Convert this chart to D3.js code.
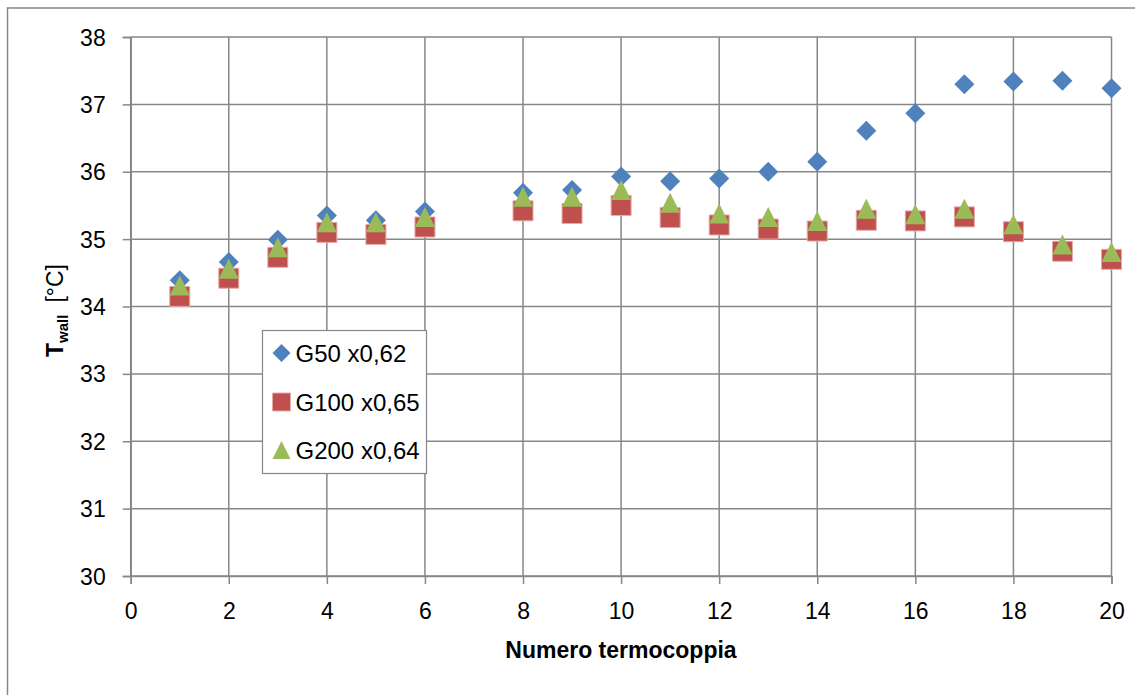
<!DOCTYPE html>
<html>
<head>
<meta charset="utf-8">
<script src="https://cdn.jsdelivr.net/npm/d3@7"></script>
<style>
  body { margin: 0; background: #fff; }
  svg { display: block; font-family: "Liberation Sans", Arial, sans-serif; }
  .axis text { font-size: 23px; fill: #000; }
  .axis line, .axis path { stroke: #878787; stroke-width: 1.5; }
  .grid line { stroke: #878787; stroke-width: 1.5; }
</style>
</head>
<body>
<svg id="chart"></svg>
<script>
// thermocouple index (no reading at 7)
const termocoppie = [1, 2, 3, 4, 5, 6, 8, 9, 10, 11, 12, 13, 14, 15, 16, 17, 18, 19, 20];
const g50 = [34.39, 34.66, 34.99, 35.35, 35.28, 35.41, 35.69, 35.73, 35.93, 35.86, 35.90, 36.00, 36.15, 36.61, 36.87, 37.30, 37.34, 37.35, 37.24];
const g100 = [34.15, 34.42, 34.73, 35.10, 35.07, 35.18, 35.42, 35.38, 35.50, 35.32, 35.21, 35.15, 35.12, 35.28, 35.27, 35.33, 35.11, 34.82, 34.70];
const g200 = [34.31, 34.56, 34.88, 35.25, 35.25, 35.33, 35.63, 35.63, 35.73, 35.54, 35.38, 35.33, 35.27, 35.45, 35.37, 35.45, 35.22, 34.92, 34.81];
const xTicks = [0, 2, 4, 6, 8, 10, 12, 14, 16, 18, 20];
const yTicks = [30, 31, 32, 33, 34, 35, 36, 37, 38];

const series = [
  { name: "G50 x0,62", values: g50, color: "#4F81BD", shape: "diamond" },
  { name: "G100 x0,65", values: g100, color: "#C0504D", shape: "square" },
  { name: "G200 x0,64", values: g200, color: "#9BBB59", shape: "triangle" }
];

const W = 1135, H = 695;
const svg = d3.select("#chart").attr("width", W).attr("height", H);

// outer chart frame (runs off the right and bottom edges)
svg.append("rect")
  .attr("x", 7.5).attr("y", 8)
  .attr("width", 1140).attr("height", 700)
  .attr("fill", "#fff")
  .attr("stroke", "#878787")
  .attr("stroke-width", 1.5);

const x = d3.scaleLinear().domain([0, 20]).range([130.7, 1111.5]);
const y = d3.scaleLinear().domain([30, 38]).range([576, 37]);

// gridlines
const grid = svg.append("g").attr("class", "grid");
grid.selectAll(".h")
  .data(yTicks)
  .enter()
  .append("line")
  .attr("x1", x(0)).attr("x2", x(20))
  .attr("y1", d => y(d)).attr("y2", d => y(d));
grid.selectAll(".v")
  .data(xTicks)
  .enter()
  .append("line")
  .attr("x1", d => x(d)).attr("x2", d => x(d))
  .attr("y1", y(38)).attr("y2", y(30));

// axes
svg.append("g")
  .attr("class", "axis")
  .attr("transform", `translate(${x(0)},0)`)
  .call(d3.axisLeft(y).tickValues(yTicks).tickSize(8).tickPadding(17).tickFormat(d3.format("d")))
  .selectAll("text")
  .attr("dy", "0.35em");

svg.append("g")
  .attr("class", "axis")
  .attr("transform", `translate(0,${y(30)})`)
  .call(d3.axisBottom(x).tickValues(xTicks).tickSize(8).tickFormat(d3.format("d")))
  .selectAll("text")
  .attr("y", 43)
  .attr("dy", 0);

// excel-style markers
function markerPath(shape, s) {
  const h = s / 2;
  if (shape === "diamond") return `M0,${-h}L${h},0L0,${h}L${-h},0Z`;
  if (shape === "square") return `M${-h},${-h}H${h}V${h}H${-h}Z`;
  return `M0,${-h}L${h},${h}L${-h},${h}Z`;
}

series.forEach(s => {
  svg.append("g")
    .selectAll("path")
    .data(termocoppie.map((t, i) => ({ t, v: s.values[i] })))
    .enter()
    .append("path")
    .attr("transform", d => `translate(${x(d.t)},${y(d.v)})`)
    .attr("d", markerPath(s.shape, 20))
    .attr("fill", s.color)
    .attr("stroke", s.shape === "square" ? "#E6A9A7" : "none")
    .attr("stroke-width", 1);
});

// axis titles
svg.append("text")
  .attr("x", 621)
  .attr("y", 658)
  .attr("text-anchor", "middle")
  .style("font-size", "23px")
  .style("font-weight", "bold")
  .text("Numero termocoppia");

const yTitle = svg.append("text")
  .attr("transform", "translate(63,357) rotate(-90)")
  .style("font-size", "23px");
yTitle.append("tspan").style("font-weight", "bold").text("T");
yTitle.append("tspan").style("font-weight", "bold").style("font-size", "15px").attr("dy", 5).text("wall");
yTitle.append("tspan").attr("dy", -5).attr("dx", 12).text("[°C]");

// legend
const legend = svg.append("g");
legend.append("rect")
  .attr("x", 262.5).attr("y", 330.5)
  .attr("width", 164).attr("height", 143)
  .attr("fill", "#fff")
  .attr("stroke", "#878787")
  .attr("stroke-width", 1.2);

const legendY = [353, 402, 450];
series.forEach((s, i) => {
  const g = legend.append("g").attr("transform", `translate(281.5,${legendY[i]})`);
  g.append("path")
    .attr("d", markerPath(s.shape, 18))
    .attr("fill", s.color)
    .attr("stroke", s.shape === "square" ? "#E6A9A7" : "none");
  g.append("text")
    .attr("x", 14)
    .attr("dy", "0.36em")
    .style("font-size", "24px")
    .text(s.name);
});
</script>
</body>
</html>
